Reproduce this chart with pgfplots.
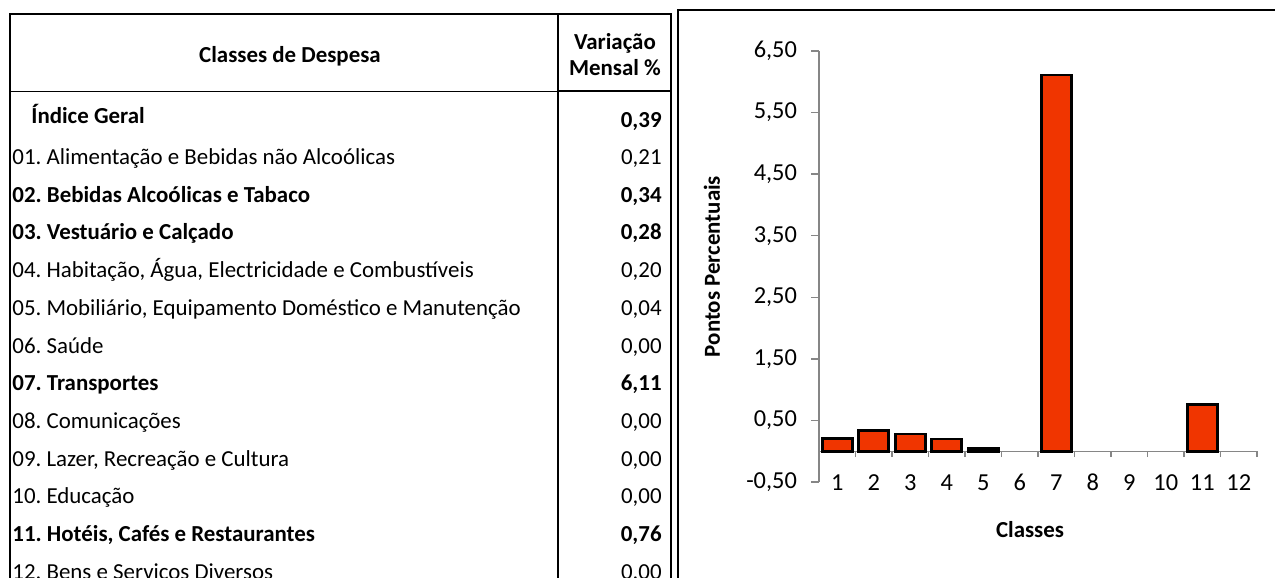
\documentclass[border=0pt]{standalone}
\usepackage{fontspec}
\setmainfont{Carlito}
\usepackage{pgfplots}
\pgfplotsset{compat=1.18}
\definecolor{barred}{HTML}{F03500}
\definecolor{axgray}{HTML}{868686}
\newcommand\tf{\fontsize{11.45}{13.5}\selectfont}
% one table row: y centre (px), extra font, label, value
\newcommand\trow[4]{%
  \node[anchor=base west,font=\tf#2,inner sep=0] at (12,#1+7.5) {#3};
  \node[anchor=base east,font=\tf#2,inner sep=0] at (662,#1+7.5) {#4};}
\frenchspacing
\begin{document}
\begin{tikzpicture}
\begin{scope}[x=0.5pt,y=-0.5pt]
\useasboundingbox (0,0) rectangle (1275,578);
% table frame
\draw[line width=1pt] (10,620) -- (10,14) -- (671,14) -- (671,620);
\draw[line width=1pt] (558,14) -- (558,620);
\draw[line width=0.5pt] (10,91) -- (558,91);
\draw[line width=1pt] (558,91) -- (671,91);
% chart frame
\draw[line width=0.6pt] (678,620) -- (678,10) -- (1300,10);
\coordinate (origin) at (819,482);
% header
\node[font=\tf\bfseries] at (290,56) {Classes de Despesa};
\node[font=\tf\bfseries] at (615,43) {Variação};
\node[font=\tf\bfseries] at (615,68) {Mensal \%};
% rows
\node[anchor=base west,font=\tf\bfseries,inner sep=0] at (31,116+7.5) {Índice Geral};
\node[anchor=base east,font=\tf\bfseries,inner sep=0] at (662,120+7.5) {0,39};
\trow{157}{}{01. Alimentação e Bebidas não Alcoólicas}{0,21}
\trow{194.7}{\bfseries}{02. Bebidas Alcoólicas e Tabaco}{0,34}
\trow{232.4}{\bfseries}{03. Vestuário e Calçado}{0,28}
\trow{270.1}{}{04. Habitação, Água, Electricidade e Combustíveis}{0,20}
\trow{307.8}{}{05. Mobiliário, Equipamento Doméstico e Manutenção}{0,04}
\trow{345.5}{}{06. Saúde}{0,00}
\trow{383.2}{\bfseries}{07. Transportes}{6,11}
\trow{420.9}{}{08. Comunicações}{0,00}
\trow{458.6}{}{09. Lazer, Recreação e Cultura}{0,00}
\trow{496.3}{}{10. Educação}{0,00}
\trow{534}{\bfseries}{11. Hotéis, Cafés e Restaurantes}{0,76}
\trow{571.7}{}{12. Bens e Serviços Diversos}{0,00}
\end{scope}
\begin{axis}[
  at={(origin)}, anchor=south west, scale only axis,
  width=219pt, height=215.5pt,
  xmin=0.5, xmax=12.5, ymin=-0.5, ymax=6.5,
  axis y line=left, axis x line=middle,
  axis line style={-, draw=axgray, line width=0.7pt},
  ytick={-0.5,0.5,1.5,2.5,3.5,4.5,5.5,6.5},
  yticklabel style={xshift=-3.5pt, /pgf/number format/.cd, fixed, fixed zerofill, precision=2, use comma},
  /pgf/number format/assume math mode=true,
  xtick={1,...,12},
  minor xtick={0.5,1.5,...,12.5},
  tick align=outside,
  major tick length=4pt, minor tick length=3pt,
  major x tick style={draw=none},
  tick style={axgray, line width=0.7pt},
  xticklabel style={anchor=north, text height=8pt, text depth=0pt, yshift=-4pt},
  tick label style={font=\fontsize{12.2}{14}\selectfont, black},
  xlabel={Classes}, ylabel={Pontos Percentuais},
  label style={font=\tf\bfseries},
  xlabel style={at={(axis description cs:0.4817,-0.1114)}, anchor=center},
  ylabel style={at={(axis description cs:-0.2443,0.5)}, anchor=center},
]
\addplot[ybar, bar width=15pt, fill=barred, draw=black, line width=1.3pt,
  restrict y to domain=0.001:10]
  coordinates {(1,0.21) (2,0.34) (3,0.28) (4,0.20) (5,0.04) (6,0)
               (7,6.11) (8,0) (9,0) (10,0) (11,0.76) (12,0)};
\end{axis}
\end{tikzpicture}
\end{document}
